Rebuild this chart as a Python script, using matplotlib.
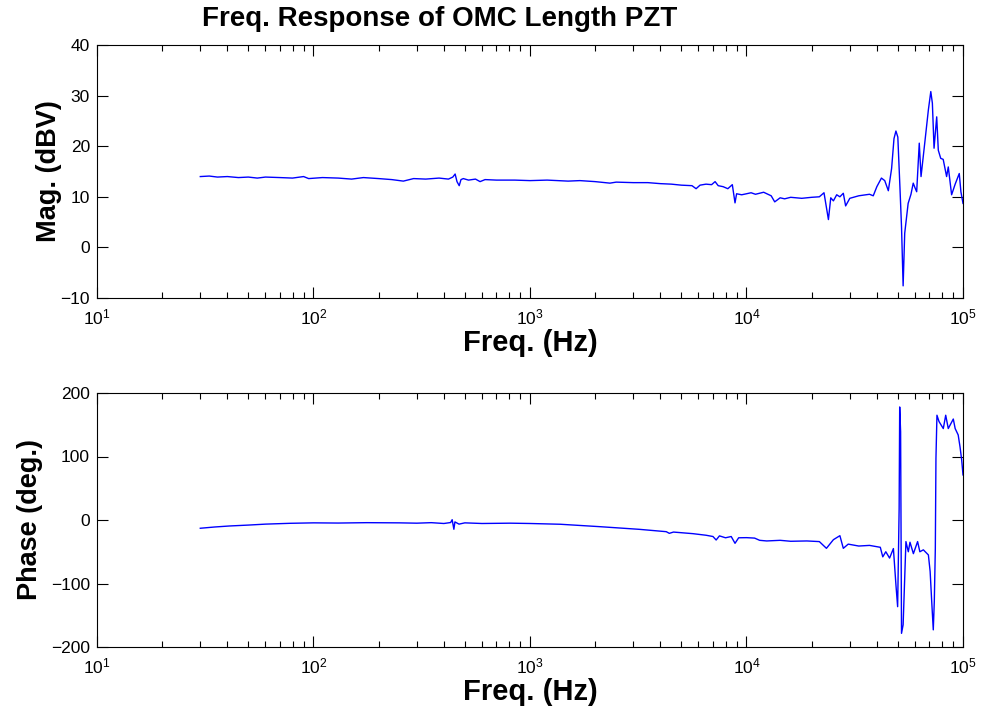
import matplotlib
matplotlib.use('Agg')
import matplotlib.pyplot as plt
from matplotlib.ticker import LogLocator, NullFormatter

plt.rcParams['font.family'] = ['Liberation Sans', 'DejaVu Sans']
plt.rcParams['mathtext.default'] = 'regular'

# Magnitude (dBV)
mag_freq = [30, 33, 36, 40, 45, 50, 55, 60, 70, 80, 90, 95, 110, 130, 150, 170,
            200, 230, 260, 290, 330, 380, 420, 440, 451, 460, 471, 480, 492, 520,
            560, 588, 620, 700, 850, 1000, 1200, 1500, 1700, 2000, 2340, 2500,
            3000, 3500, 4000, 4500, 5000, 5600, 5850, 6100, 6500, 6900, 7160,
            7400, 7800, 8200, 8600, 8850, 9000, 9500, 10000, 10500, 11000, 12000,
            13000, 13500, 14300, 15000, 16000, 18000, 20000, 21700, 22800, 23900,
            24500, 25200, 26100, 27000, 28000, 28700, 30000, 33000, 37000, 38500,
            40000, 42000, 43500, 45200, 46800, 48000, 49000, 50000, 51200, 52000,
            52900, 53800, 55800, 57500, 58900, 60000, 61100, 62800, 64000, 66800,
            69200, 71000, 72200, 73500, 75600, 76900, 78900, 81000, 84000, 85500,
            88600, 92000, 96100, 97800, 100000]
mag_db = [14.0, 14.1, 13.9, 14.0, 13.8, 13.9, 13.7, 13.9, 13.8, 13.7, 14.0, 13.6,
          13.8, 13.7, 13.5, 13.8, 13.6, 13.4, 13.1, 13.6, 13.5, 13.7, 13.5, 13.9,
          14.5, 13.0, 12.2, 13.4, 13.6, 13.3, 13.5, 13.0, 13.4, 13.3, 13.3, 13.2,
          13.3, 13.1, 13.2, 13.0, 12.7, 12.9, 12.8, 12.8, 12.6, 12.5, 12.3, 12.2,
          11.6, 12.3, 12.5, 12.4, 13.0, 12.2, 12.0, 11.6, 12.4, 8.8, 10.6, 10.4,
          10.6, 10.8, 10.5, 10.9, 10.2, 9.0, 9.8, 9.6, 9.9, 9.7, 9.9, 10.0, 10.8,
          5.5, 9.8, 9.2, 10.4, 10.0, 10.7, 8.2, 9.7, 10.2, 10.5, 10.2, 12.0, 13.7,
          13.2, 11.2, 15.6, 21.5, 23.0, 21.8, 11.3, 4.1, -7.6, 2.8, 8.7, 10.5,
          12.7, 11.8, 11.0, 20.6, 14.0, 21.2, 27.2, 30.8, 28.5, 19.6, 25.8, 19.2,
          17.6, 17.4, 14.0, 15.9, 10.4, 12.5, 14.6, 11.0, 8.7]

# Phase (deg.)
ph_freq = [30, 35, 41, 50, 60, 78, 100, 130, 176, 250, 300, 350, 400, 430, 437,
           445, 450, 470, 500, 600, 810, 1000, 1380, 2100, 3200, 4260, 4400, 4600,
           5650, 6500, 7000, 7240, 7500, 8000, 8500, 8850, 9200, 10000, 10900,
           11500, 12400, 14300, 16000, 19000, 21700, 23400, 25200, 27000, 28000,
           29500, 33000, 37000, 41500, 42600, 44000, 45800, 47700, 49000, 49900,
           50700, 51000, 51500, 52000, 52900, 54500, 55900, 56900, 59000, 61700,
           63200, 65600, 69200, 70500, 71700, 72900, 73700, 74500, 75000, 75800,
           77500, 81100, 83200, 85500, 90200, 92000, 95000, 96900, 98600, 100000]
ph_deg = [-13, -11, -9.4, -8, -6.5, -5.2, -4.5, -4.8, -4.2, -4.5, -5.0, -4.2, -5.5,
          -4.0, 0.5, -14.6, -3, -6.5, -4.5, -5.5, -5, -5.5, -6.7, -10.5, -14.7,
          -18.4, -21, -19, -21.5, -24, -26, -31.5, -25, -28, -26, -36.7, -28,
          -27.8, -28.5, -32, -33, -32, -33.5, -33, -34, -44.6, -31, -24.7, -44.6,
          -38, -41, -40, -43, -58, -50, -60, -45, -102, -136.5, 18, 178, 139,
          -178.5, -165, -34, -50, -35, -53, -34, -50, -47, -55, -81, -128.6, -173,
          -128, -45, 97, 165, 155, 144, 165, 144, 159, 144, 134, 115, 94.5, 71]

fig = plt.figure(figsize=(9.87, 7.07), dpi=100, facecolor='white')
ax1 = fig.add_axes([97/987, 1 - 298/707, 866/987, 253/707])
ax2 = fig.add_axes([97/987, 1 - 647/707, 866/987, 254/707])

ax1.semilogx(mag_freq, mag_db, color='#0000ff', linewidth=1.0)
ax2.semilogx(ph_freq, ph_deg, color='#0000ff', linewidth=1.0)

ax1.set_ylim(-10, 40)
ax1.set_yticks([-10, 0, 10, 20, 30, 40])
ax2.set_ylim(-200, 200)
ax2.set_yticks([-200, -100, 0, 100, 200])

for ax in (ax1, ax2):
    ax.set_xlim(10, 1e5)
    ax.xaxis.set_major_locator(LogLocator(base=10, numticks=10))
    ax.xaxis.set_minor_locator(LogLocator(base=10, subs=range(2, 10), numticks=20))
    ax.xaxis.set_minor_formatter(NullFormatter())
    ax.tick_params(which='both', direction='in', top=True, right=True,
                   labelsize=12.5, colors='black')
    ax.tick_params(which='major', length=8, width=0.8)
    ax.tick_params(which='minor', length=4.5, width=0.8)
    ax.tick_params(axis='x', which='major', pad=7)
    ax.tick_params(axis='y', which='major', pad=5)
    ax.set_xlabel('Freq. (Hz)', fontsize=21, fontweight='bold', labelpad=1)
    for s in ax.spines.values():
        s.set_linewidth(0.8)

ax1.set_ylabel('Mag. (dBV)', fontsize=19.5, fontweight='bold', labelpad=-1)
ax2.set_ylabel('Phase (deg.)', fontsize=19.5, fontweight='bold', labelpad=6)

fig.text(440/987, 1 - 19/707, 'Freq. Response of OMC Length PZT',
         ha='center', va='center', fontsize=20, fontweight='bold')

fig.savefig('out.png', dpi=100, facecolor='white')
